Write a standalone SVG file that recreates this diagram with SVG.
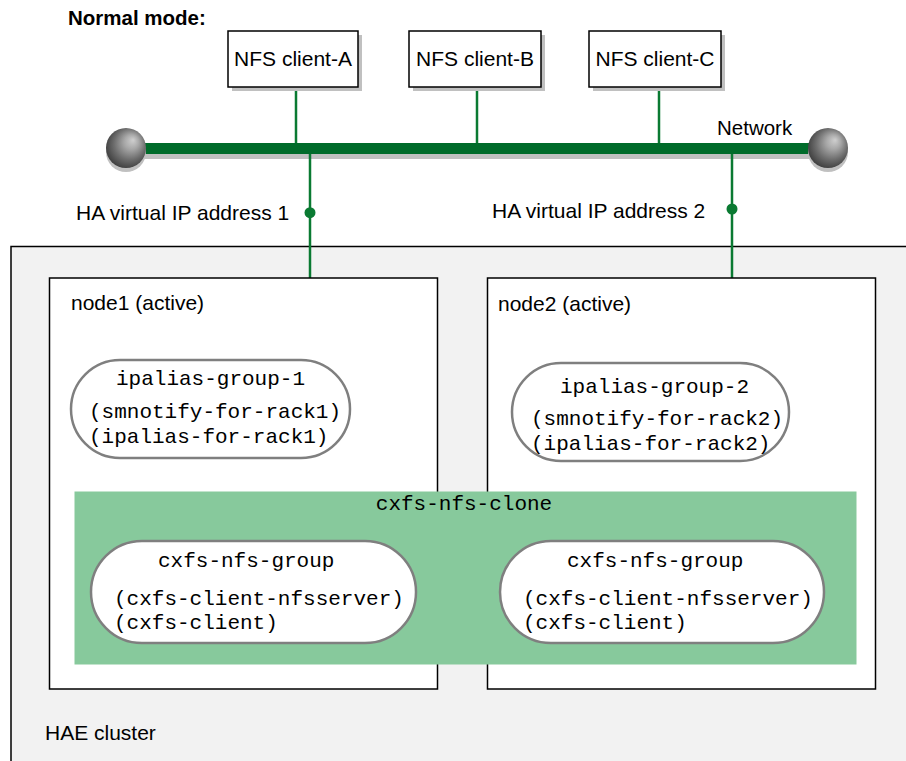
<svg xmlns="http://www.w3.org/2000/svg" width="906" height="761" viewBox="0 0 906 761">
<defs>
<radialGradient id="sph" cx="0.55" cy="0.45" r="0.6" fx="0.68" fy="0.3">
<stop offset="0" stop-color="#cfcfcf"/>
<stop offset="0.3" stop-color="#a8a8a8"/>
<stop offset="0.65" stop-color="#6e6e6e"/>
<stop offset="1" stop-color="#3a3a3a"/>
</radialGradient>
</defs>
<style>
.sans{font-family:"Liberation Sans",Arial,sans-serif;fill:#000}
.mono{font-family:"Liberation Mono","Courier New",monospace;fill:#000;font-size:21px}
.client{fill:#fff;stroke:#000;stroke-width:1.5}
.shadow{fill:#c0c0c0}
.node{fill:#fff;stroke:#000;stroke-width:1.5}
.pill{fill:#fff;stroke:#7f7f7f;stroke-width:2.5}
.wire{stroke:#0a7a32;stroke-width:2.5;fill:none}
</style>
<text class="sans" x="68" y="25" font-size="20.5" font-weight="bold">Normal mode:</text>

<g id="cluster">
<rect x="11" y="246.5" width="920" height="530" fill="#f2f2f2" stroke="#000" stroke-width="1.5"/>
<text class="sans" x="45" y="740" font-size="21">HAE cluster</text>
</g>

<g id="connectors">
<rect x="126" y="152" width="702" height="7" class="shadow"/>
<line x1="296" y1="88" x2="296" y2="148" class="wire"/>
<line x1="477" y1="88" x2="477" y2="148" class="wire"/>
<line x1="659" y1="88" x2="659" y2="148" class="wire"/>
<line x1="310" y1="148" x2="310" y2="278" class="wire"/>
<line x1="732" y1="148" x2="732" y2="278" class="wire"/>
<rect x="126" y="143" width="702" height="11" fill="#006b2a"/>
<circle cx="310" cy="212.7" r="5.5" fill="#0a7a32"/>
<circle cx="732" cy="209" r="5.5" fill="#0a7a32"/>
<text class="sans" x="76" y="220" font-size="21">HA virtual IP address 1</text>
<text class="sans" x="492" y="217.5" font-size="21">HA virtual IP address 2</text>
<text class="sans" x="717" y="135" font-size="20.5">Network</text>
</g>

<g id="sphere-left">
<circle cx="126" cy="152" r="20" class="shadow"/>
<circle cx="126" cy="148" r="20" fill="url(#sph)"/>
</g>
<g id="sphere-right">
<circle cx="828" cy="152" r="20" class="shadow"/>
<circle cx="828" cy="148" r="20" fill="url(#sph)"/>
</g>

<g id="client-a">
<rect x="232" y="35" width="130" height="56" class="shadow"/>
<rect x="228" y="31" width="130" height="56" class="client"/>
<text class="sans" x="293" y="66" font-size="21" text-anchor="middle">NFS client-A</text>
</g>
<g id="client-b">
<rect x="413" y="35" width="132" height="56" class="shadow"/>
<rect x="409" y="31" width="132" height="56" class="client"/>
<text class="sans" x="475" y="66" font-size="21" text-anchor="middle">NFS client-B</text>
</g>
<g id="client-c">
<rect x="593" y="35" width="132" height="56" class="shadow"/>
<rect x="589" y="31" width="132" height="56" class="client"/>
<text class="sans" x="655" y="66" font-size="21" text-anchor="middle">NFS client-C</text>
</g>

<g id="node1">
<rect x="49.5" y="278" width="388" height="411" class="node"/>
<text class="sans" x="71" y="310" font-size="21">node1 (active)</text>
</g>
<g id="node2">
<rect x="487.5" y="278" width="388" height="411" class="node"/>
<text class="sans" x="498" y="310.5" font-size="21">node2 (active)</text>
</g>

<g id="ipalias-group-1">
<rect x="71" y="360" width="279" height="98" rx="49" class="pill"/>
<text class="mono" x="116" y="385">ipalias-group-1</text>
<text class="mono" x="89" y="418">(smnotify-for-rack1)</text>
<text class="mono" x="89" y="443">(ipalias-for-rack1)</text>
</g>
<g id="ipalias-group-2">
<rect x="512" y="363" width="277" height="98" rx="49" class="pill"/>
<text class="mono" x="560" y="393">ipalias-group-2</text>
<text class="mono" x="531" y="425">(smnotify-for-rack2)</text>
<text class="mono" x="531" y="450">(ipalias-for-rack2)</text>
</g>

<g id="cxfs-nfs-clone">
<rect x="74.5" y="491.5" width="782" height="173" fill="#87c99c"/>
<text class="mono" x="464" y="510" text-anchor="middle">cxfs-nfs-clone</text>
</g>

<g id="cxfs-nfs-group-1">
<rect x="91" y="541" width="325" height="102" rx="51" class="pill"/>
<text class="mono" x="158" y="567">cxfs-nfs-group</text>
<text class="mono" x="114" y="605">(cxfs-client-nfsserver)</text>
<text class="mono" x="114" y="629">(cxfs-client)</text>
</g>
<g id="cxfs-nfs-group-2">
<rect x="500" y="541" width="324" height="102" rx="51" class="pill"/>
<text class="mono" x="567" y="567">cxfs-nfs-group</text>
<text class="mono" x="523" y="605">(cxfs-client-nfsserver)</text>
<text class="mono" x="523" y="629">(cxfs-client)</text>
</g>
</svg>
